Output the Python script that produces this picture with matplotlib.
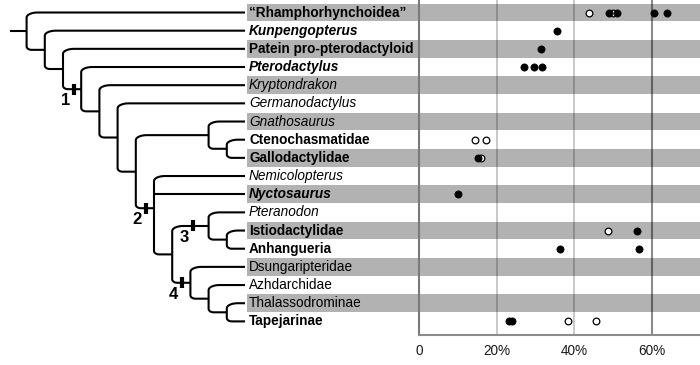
import numpy as np
import matplotlib
matplotlib.use('Agg')
import matplotlib.pyplot as plt

plt.rcParams['font.family'] = ['Liberation Sans', 'DejaVu Sans']

# taxa, top to bottom
taxa = ['\u201cRhamphorhynchoidea\u201d', 'Kunpengopterus', 'Patein pro-pterodactyloid',
        'Pterodactylus', 'Kryptondrakon', 'Germanodactylus', 'Gnathosaurus',
        'Ctenochasmatidae', 'Gallodactylidae', 'Nemicolopterus', 'Nyctosaurus',
        'Pteranodon', 'Istiodactylidae', 'Anhangueria', 'Dsungaripteridae',
        'Azhdarchidae', 'Thalassodrominae', 'Tapejarinae']
weights = ['bold', 'bold', 'bold', 'bold', 'normal', 'normal', 'normal', 'bold', 'bold',
           'normal', 'bold', 'normal', 'bold', 'bold', 'normal', 'normal', 'normal', 'bold']
slants = ['normal', 'italic', 'normal', 'italic', 'italic', 'italic', 'italic', 'normal',
          'normal', 'italic', 'italic', 'italic', 'normal', 'normal', 'normal', 'normal',
          'normal', 'normal']

# topology (tip indices)
clade3 = (11, (12, 13))
clade4 = (14, (15, (16, 17)))
clade2 = (9, 10, (clade3, clade4))
clade1 = (3, (4, (5, ((6, (7, 8)), clade2))))
tree = (0, (1, (2, clade1)))
marked = {id(clade1): '1', id(clade2): '2', id(clade3): '3', id(clade4): '4'}
mark_dx = {'1': -7, '2': -8, '3': -15.5, '4': -8}

# percentages
filled_row = [0, 0, 0, 0, 1, 2, 3, 3, 3, 8, 10, 12, 13, 13, 17, 17]
filled_pct = [49.0, 51.0, 60.7, 63.9, 35.7, 31.5, 27.1, 29.6, 31.6, 15.1, 10.0, 56.3,
              36.3, 56.8, 23.2, 23.9]
open_row = [0, 0, 7, 7, 8, 12, 17, 17]
open_pct = [43.9, 50.1, 14.4, 17.2, 15.9, 48.8, 38.3, 45.7]

xticks = [0, 20, 40, 60]
xticklabels = ['0', '20%', '40%', '60%']

band = '#b2b2b2'
W, H = 700, 365
split = 419.3
tip_x, step = 245, 18.2
row_px = 18.17
ytop = -12.5 / row_px
ybot = (335 - 12.5) / row_px

fig = plt.figure(figsize=(7, 3.65), dpi=100)
axt = fig.add_axes([0, 1 - 335 / H, split / W, 335 / H])
axd = fig.add_axes([split / W, 1 - 335 / H, 1 - split / W, 335 / H], sharey=axt)

n = len(taxa)
rows = np.arange(n)
even = rows[::2]

# ---- tree side
axt.set_xlim(0, split)
axt.set_ylim(ybot, ytop)
axt.axis('off')
axt.barh(even, split - 247, left=247, height=0.98, color=band, zorder=0)
for i, t in enumerate(taxa):
    axt.text(249, i, t, fontsize=9.8, fontweight=weights[i], fontstyle=slants[i],
             ha='left', va='center', zorder=3)


def corner(x0, y0, rx, ry, top):
    t = np.linspace(0, np.pi / 2, 12)
    if top:
        return x0 + rx - rx * np.cos(t), y0 + ry - ry * np.sin(t)
    return x0 + rx - rx * np.cos(t), y0 - ry + ry * np.sin(t)


def draw(node):
    if isinstance(node, int):
        return float(node), 0, tip_x
    kids = [draw(c) for c in node]
    y = np.mean([k[0] for k in kids])
    h = max(k[1] for k in kids) + 1
    x = tip_x - step * h
    yt, _, xt = kids[0]
    yb, _, xb = kids[-1]
    cx1, cy1 = corner(x, yt, 11, 5 / row_px, True)
    cx2, cy2 = corner(x, yb, 5, 3.5 / row_px, False)
    xs = np.concatenate([[xt], cx1[::-1], cx2, [xb]])
    ys = np.concatenate([[yt], cy1[::-1], cy2, [yb]])
    axt.plot(xs, ys, color='k', lw=1.5, solid_joinstyle='round', solid_capstyle='butt', zorder=2)
    for ym, _, xm in kids[1:-1]:
        axt.plot([x, xm], [ym, ym], color='k', lw=1.5, solid_capstyle='butt', zorder=2)
    if id(node) in marked:
        lab = marked[id(node)]
        bx = x + mark_dx[lab]
        axt.plot([bx, bx], [y - 5.5 / row_px, y + 5.5 / row_px], color='k', lw=3,
                 solid_capstyle='butt', zorder=3)
        axt.text(bx - 9, y + 11.5 / row_px, lab, fontsize=12, fontweight='bold',
                 ha='center', va='center', zorder=3)
    return y, h, x


ry, rh, rx = draw(tree)
axt.plot([10, rx], [ry, ry], color='k', lw=1.5, solid_capstyle='butt', zorder=2)

# ---- dot plot
axd.set_xlim(0, (W - split) / 77.4 * 20)
for r in even:
    axd.axhspan(r - 0.49, r + 0.49, color=band, lw=0, zorder=0)
for v in xticks[1:]:
    if v == 60:
        axd.axvline(v, color='k', alpha=0.45, lw=1.5, zorder=1)
    else:
        axd.axvline(v, color='k', alpha=0.25, lw=1.2, zorder=1)

axd.plot(open_pct, open_row, 'o', ms=4.8, mfc='white', mec='k', mew=0.9, ls='none', zorder=3)
axd.plot(filled_pct, filled_row, 'o', ms=5.2, mfc='k', mec='k', mew=0.5, ls='none', zorder=4)

axd.set_xticks(xticks)
axd.set_xticklabels(xticklabels, fontsize=9.8, color='#1a1a1a')
axd.tick_params(axis='x', length=0, pad=6.5)
axd.tick_params(axis='y', left=False, labelleft=False)
for s in ['top', 'right']:
    axd.spines[s].set_visible(False)
axd.spines['left'].set_color('#7a7a7a')
axd.spines['left'].set_linewidth(1.5)
axd.spines['bottom'].set_color('#8c8c8c')
axd.spines['bottom'].set_linewidth(1.5)
axd.patch.set_alpha(0)

fig.savefig('out.png', dpi=100)
